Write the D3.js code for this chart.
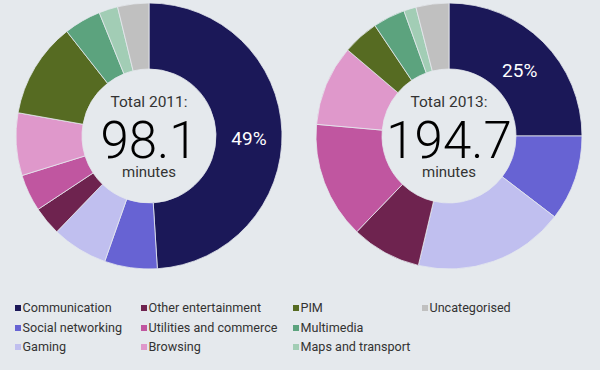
<!DOCTYPE html>
<html>
<head>
<meta charset="utf-8">
<script src="https://cdnjs.cloudflare.com/ajax/libs/d3/7.8.5/d3.min.js"></script>
<style>
  body { margin: 0; background: #e5e9ed; }
  svg { display: block; font-family: Roboto, "DejaVu Sans", sans-serif; }
</style>
</head>
<body>
<div id="chart"></div>
<script>
// categories in clockwise order from 12 o'clock
var categories = ["Communication", "Social networking", "Gaming", "Other entertainment",
  "Utilities and commerce", "Browsing", "PIM", "Multimedia", "Maps and transport", "Uncategorised"];
var colours = ["#1b1858", "#6763d3", "#c0bfef", "#6e234f", "#c056a0",
  "#df98cb", "#566b22", "#5ca37e", "#a2cdb5", "#c0c0c0"];
// share of time, percent
var share2011 = [49, 6.4, 6.8, 3.5, 4.5, 7.6, 11.6, 4.5, 2.3, 3.8];
var share2013 = [25, 10.4, 18.3, 8.5, 14.2, 9.8, 4.4, 3.9, 1.5, 4.0];
var totals = ["98.1", "194.7"];
var years = ["2011", "2013"];

var W = 600, H = 370;
var svg = d3.select("#chart").append("svg").attr("width", W).attr("height", H);

var pie = d3.pie().sort(null).value(d => d);
var rOut = 133, rIn = 67;
var arc = d3.arc().innerRadius(rIn).outerRadius(rOut);

function donut(cx, cy, data, year, total) {
  var g = svg.append("g").attr("transform", "translate(" + cx + "," + cy + ")");
  var arcs = pie(data);
  g.selectAll("path").data(arcs).enter().append("path")
    .attr("d", arc)
    .attr("fill", (d, i) => colours[i])
    .attr("stroke", "#e5e9ed")
    .attr("stroke-width", 0.8);

  // percentage label on the communication slice
  var c = arc.centroid(arcs[0]);
  g.append("text")
    .attr("x", c[0])
    .attr("y", c[1] + 5)
    .attr("dy", "0.35em")
    .attr("text-anchor", "middle")
    .attr("fill", "#fff")
    .style("font-size", "19px")
    .text(Math.round(data[0]) + "%");

  g.append("text").attr("y", -29).attr("text-anchor", "middle")
    .attr("fill", "#333").style("font-size", "15.5px")
    .text("Total " + year + ":");
  g.append("text").attr("y", 22).attr("text-anchor", "middle")
    .attr("fill", "#000").style("font-size", "51px").style("font-weight", 300)
    .text(total);
  g.append("text").attr("y", 41).attr("text-anchor", "middle")
    .attr("fill", "#333").style("font-size", "15px")
    .text("minutes");
}

donut(149, 136, share2011, years[0], totals[0]);
donut(449, 136, share2013, years[1], totals[1]);

// legend, column-major, 3 rows
var colX = [15, 141, 293, 422];
var rowY = [308, 328, 347];
var leg = svg.append("g");
categories.forEach(function (c, i) {
  var col = Math.floor(i / 3), row = i % 3;
  var x = colX[col], y = rowY[row];
  leg.append("rect").attr("x", x).attr("y", y - 3).attr("width", 6).attr("height", 6)
    .attr("fill", colours[i]);
  leg.append("text").attr("x", x + 7.5).attr("y", y).attr("dy", "0.35em")
    .attr("fill", "#333").style("font-size", "12.6px")
    .text(c);
});
</script>
</body>
</html>
